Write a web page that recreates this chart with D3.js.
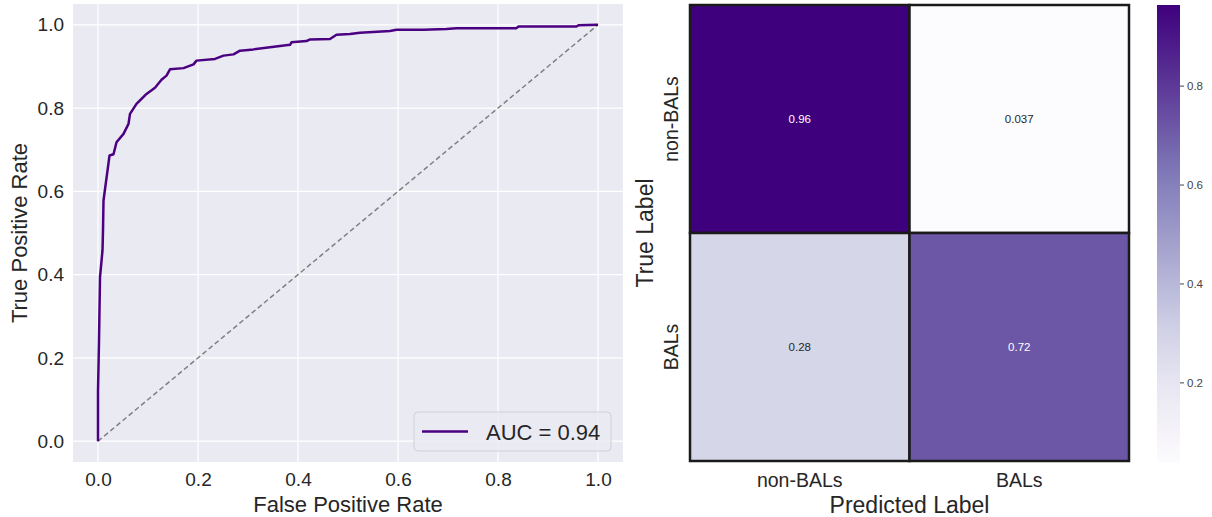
<!DOCTYPE html>
<html>
<head>
<meta charset="utf-8">
<script src="https://cdn.jsdelivr.net/npm/d3@7"></script>
<style>
  body { margin: 0; background: #fff; }
  svg text { font-family: "Liberation Sans", Arial, sans-serif; }
</style>
</head>
<body>
<svg id="chart" width="1212" height="517"></svg>
<script>
// ROC curve points (false positive rate, true positive rate)
const rocFpr = [0, 0.000, 0.002, 0.004, 0.009, 0.010, 0.011, 0.023, 0.031, 0.037, 0.051, 0.061, 0.064, 0.077, 0.097,
  0.114, 0.127, 0.137, 0.144, 0.171, 0.191, 0.197, 0.234, 0.251, 0.271, 0.284, 0.311, 0.344, 0.384, 0.387,
  0.417, 0.424, 0.464, 0.477, 0.504, 0.524, 0.584, 0.597, 0.651, 0.697, 0.717, 0.837, 0.841, 0.957, 0.961, 1];
const rocTpr = [0, 0.120, 0.240, 0.394, 0.458, 0.506, 0.578, 0.686, 0.689, 0.718, 0.738, 0.762, 0.786, 0.810, 0.834,
  0.849, 0.868, 0.878, 0.893, 0.896, 0.905, 0.914, 0.918, 0.926, 0.929, 0.938, 0.941, 0.946, 0.952, 0.958,
  0.961, 0.965, 0.966, 0.976, 0.978, 0.981, 0.985, 0.988, 0.988, 0.990, 0.992, 0.992, 0.996, 0.996, 0.999, 1];
const rocTicks = [0, 0.2, 0.4, 0.6, 0.8, 1.0];
const aucLabel = "AUC = 0.94";

// normalised confusion matrix
const classes = ["non-BALs", "BALs"];
const cmValues = [
  [0.963, 0.037],
  [0.28, 0.72]
];
const cbTicks = [0.2, 0.4, 0.6, 0.8];

const svg = d3.select("#chart");
const textDark = "#262626";
const rocColor = "#4b0082";

// ---------- ROC panel ----------
const x = d3.scaleLinear().domain([-0.05, 1.05]).range([73, 623]);
const y = d3.scaleLinear().domain([-0.05, 1.05]).range([462, 4]);

svg.append("rect")
  .attr("x", x(-0.05)).attr("y", y(1.05))
  .attr("width", x(1.05) - x(-0.05)).attr("height", y(-0.05) - y(1.05))
  .attr("fill", "#eaeaf2");

const grid = svg.append("g").attr("stroke", "#fff").attr("stroke-width", 1.2);
grid.selectAll(".gx").data(rocTicks).join("line")
  .attr("x1", d => x(d)).attr("x2", d => x(d))
  .attr("y1", y(1.05)).attr("y2", y(-0.05));
grid.selectAll(".gy").data(rocTicks).join("line")
  .attr("y1", d => y(d)).attr("y2", d => y(d))
  .attr("x1", x(-0.05)).attr("x2", x(1.05));

const xAxis = svg.append("g")
  .attr("transform", `translate(0,${y(-0.05)})`)
  .call(d3.axisBottom(x).tickValues(rocTicks).tickFormat(d3.format(".1f")).tickSize(0).tickPadding(8));
const yAxis = svg.append("g")
  .attr("transform", `translate(${x(-0.05)},0)`)
  .call(d3.axisLeft(y).tickValues(rocTicks).tickFormat(d3.format(".1f")).tickSize(0).tickPadding(9));
[xAxis, yAxis].forEach(a => {
  a.select(".domain").remove();
  a.selectAll("text").style("font-size", "19px").attr("fill", textDark)
    .style("font-family", "'Liberation Sans', Arial, sans-serif");
});
xAxis.selectAll("text").attr("dy", "0.71em").attr("y", 11);

// chance diagonal
svg.append("line")
  .attr("x1", x(0)).attr("y1", y(0)).attr("x2", x(1)).attr("y2", y(1))
  .attr("stroke", "#808080").attr("stroke-width", 1.5).attr("stroke-dasharray", "5,3");

const roc = d3.line().x(d => x(d[0])).y(d => y(d[1]));
svg.append("path")
  .datum(d3.zip(rocFpr, rocTpr))
  .attr("d", roc)
  .attr("fill", "none").attr("stroke", rocColor).attr("stroke-width", 2.5)
  .attr("stroke-linejoin", "round");

svg.append("text")
  .attr("x", x(0.5)).attr("y", 512)
  .attr("text-anchor", "middle").style("font-size", "22px").attr("fill", textDark)
  .text("False Positive Rate");
svg.append("text")
  .attr("transform", `translate(27,${(y(-0.05) + y(1.05)) / 2}) rotate(-90)`)
  .attr("text-anchor", "middle").style("font-size", "22px").attr("fill", textDark)
  .text("True Positive Rate");

// legend
const lg = svg.append("g").attr("transform", "translate(414,412)");
lg.append("rect").attr("width", 197).attr("height", 39).attr("rx", 4)
  .attr("fill", "#eaeaf2").attr("fill-opacity", 0.8).attr("stroke", "#d0d0d8");
lg.append("line").attr("x1", 8).attr("x2", 54).attr("y1", 19.5).attr("y2", 19.5)
  .attr("stroke", rocColor).attr("stroke-width", 2.5);
lg.append("text").attr("x", 72).attr("y", 27.5)
  .style("font-size", "22px").attr("fill", textDark).text(aucLabel);

// ---------- confusion matrix panel ----------
const cx = d3.scaleBand().domain(classes).range([690, 1129]);
const cy = d3.scaleBand().domain(classes).range([5, 461]);
const flat = cmValues.flatMap(row => row);
const vmin = d3.min(flat), vmax = d3.max(flat);
const color = d3.scaleSequential(d3.interpolatePurples).domain([vmin, vmax]);
const fmt = d3.format(".2");

const cells = [];
classes.forEach((r, i) => classes.forEach((c, j) => cells.push({ r, c, v: cmValues[i][j] })));

svg.append("g").selectAll("rect").data(cells).join("rect")
  .attr("x", d => cx(d.c)).attr("y", d => cy(d.r))
  .attr("width", cx.bandwidth()).attr("height", cy.bandwidth())
  .attr("fill", d => color(d.v))
  .attr("stroke", "#1a1a1a").attr("stroke-width", 2.5);

svg.append("g").selectAll("text").data(cells).join("text")
  .attr("x", d => cx(d.c) + cx.bandwidth() / 2)
  .attr("y", d => cy(d.r) + cy.bandwidth() / 2)
  .attr("dy", "0.35em").attr("text-anchor", "middle")
  .style("font-size", "11.5px")
  .attr("fill", d => (d.v - vmin) / (vmax - vmin) > 0.5 ? "#fff" : textDark)
  .text(d => fmt(d.v));

svg.append("g").selectAll("text").data(classes).join("text")
  .attr("x", d => cx(d) + cx.bandwidth() / 2).attr("y", 487)
  .attr("text-anchor", "middle").style("font-size", "19.5px").attr("fill", textDark)
  .text(d => d);
svg.append("g").selectAll("text").data(classes).join("text")
  .attr("transform", d => `translate(678,${cy(d) + cy.bandwidth() / 2}) rotate(-90)`)
  .attr("text-anchor", "middle").style("font-size", "19.5px").attr("fill", textDark)
  .text(d => d);

svg.append("text")
  .attr("x", (690 + 1129) / 2).attr("y", 513)
  .attr("text-anchor", "middle").style("font-size", "23px").attr("fill", textDark)
  .text("Predicted Label");
svg.append("text")
  .attr("transform", `translate(653,${(5 + 461) / 2}) rotate(-90)`)
  .attr("text-anchor", "middle").style("font-size", "23px").attr("fill", textDark)
  .text("True Label");

// colorbar
const cb = d3.scaleLinear().domain([vmin, vmax]).range([463, 5]);
const defs = svg.append("defs");
const grad = defs.append("linearGradient").attr("id", "cbGrad")
  .attr("x1", 0).attr("y1", 1).attr("x2", 0).attr("y2", 0);
d3.range(0, 1.0001, 0.05).forEach(t => {
  grad.append("stop").attr("offset", t).attr("stop-color", d3.interpolatePurples(t));
});
svg.append("rect")
  .attr("x", 1157).attr("y", cb(vmax)).attr("width", 23).attr("height", cb(vmin) - cb(vmax))
  .attr("fill", "url(#cbGrad)");
const cbAxis = svg.append("g")
  .attr("transform", "translate(1180,0)")
  .call(d3.axisRight(cb).tickValues(cbTicks).tickFormat(d3.format(".1f")).tickSize(4).tickPadding(3));
cbAxis.select(".domain").remove();
cbAxis.selectAll("line").attr("stroke", "#444");
cbAxis.selectAll("text").style("font-size", "11.5px").attr("fill", "#444")
  .style("font-family", "'Liberation Sans', Arial, sans-serif");
</script>
</body>
</html>
